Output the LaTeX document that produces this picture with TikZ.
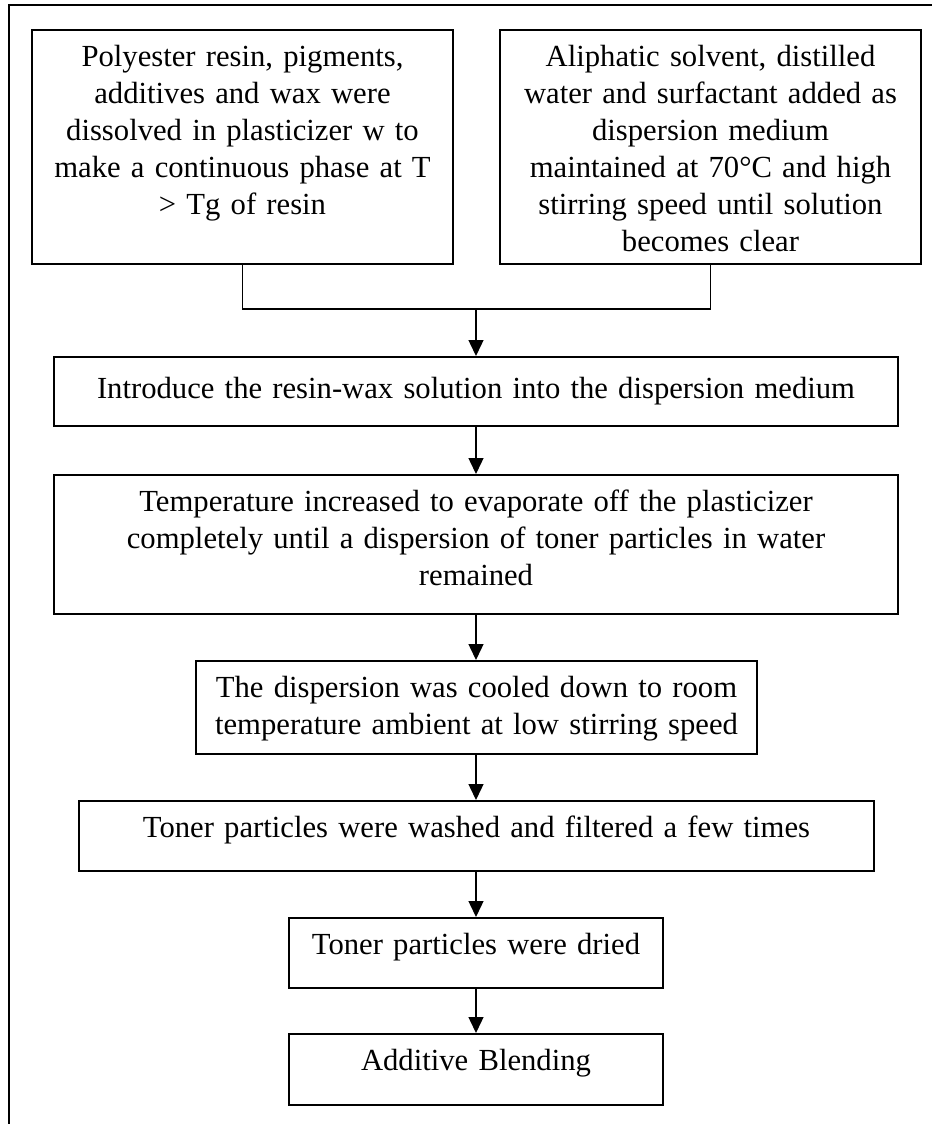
\documentclass[tikz,border=0pt]{standalone}
\usepackage{fontspec}
\setmainfont{Liberation Serif}
\usetikzlibrary{arrows.meta}
\tikzset{
    stepbox/.style={
        draw=black,
        line width=0.75pt,
        rectangle,
        anchor=north,
        align=center,
        inner xsep=0pt,
        inner ysep=0pt,
        text height=13.5pt,
        font=\fontsize{11.5}{13.9}\selectfont
    },
    arrow/.style={
        -{Triangle[width=5.6pt,length=6pt]},
        line width=0.6pt,
        color=black
    },
    joinline/.style={
        line width=0.6pt,
        color=black
    }
}

\begin{document}
\begin{tikzpicture}[x=0.375pt,y=-0.375pt]
    \useasboundingbox (0,0) rectangle (932,1124);
    % Frame
    \draw[line width=0.75pt] (9,1124) -- (9,5) -- (932,5);

    % Two starting phases
    \node[stepbox, text width=157.9pt, text depth=74.25pt] (resin) at (242.5,29)
        {Polyester resin, pigments,\\ additives and wax were\\ dissolved in plasticizer w to\\ make a continuous phase at T\\ > Tg of resin};
    \node[stepbox, text width=157.9pt, text depth=74.25pt] (medium) at (710.5,29)
        {Aliphatic solvent, distilled\\ water and surfactant added as\\ dispersion medium\\ maintained at 70°C and high\\ stirring speed until solution\\ becomes clear};

    % Process steps
    \node[stepbox, text width=316.5pt, text height=15.4pt, text depth=10.5pt] (introduce) at (476,356)
        {Introduce the resin-wax solution into the dispersion medium};
    \node[stepbox, text width=316.5pt, text depth=38.6pt] (evaporate) at (476,474)
        {Temperature increased to evaporate off the plasticizer\\ completely until a dispersion of toner particles in water\\ remained};
    \node[stepbox, text width=210.4pt, text depth=21.4pt] (cool) at (476.5,660)
        {The dispersion was cooled down to room\\ temperature ambient at low stirring speed};
    \node[stepbox, text width=298.1pt, text depth=12.75pt] (wash) at (476.5,800)
        {Toner particles were washed and filtered a few times};
    \node[stepbox, text width=140.25pt, text depth=12.75pt] (dry) at (476,917)
        {Toner particles were dried};
    \node[stepbox, text width=140.25pt, text depth=13.1pt] (blend) at (476,1033)
        {Additive Blending};

    % Join the two phases
    \coordinate (join) at (476,309);
    \draw[joinline] (resin.south) -- (resin.south |- join) -- (medium.south |- join) -- (medium.south);
    \draw[arrow] (join) -- (introduce.north);

    % Arrows down the chain
    \draw[arrow] (introduce.south) -- (introduce.south |- evaporate.north);
    \draw[arrow] (evaporate.south) -- (evaporate.south |- cool.north);
    \draw[arrow] (cool.south -| introduce.south) -- (introduce.south |- wash.north);
    \draw[arrow] (wash.south -| introduce.south) -- (introduce.south |- dry.north);
    \draw[arrow] (dry.south) -- (blend.north);
\end{tikzpicture}
\end{document}
